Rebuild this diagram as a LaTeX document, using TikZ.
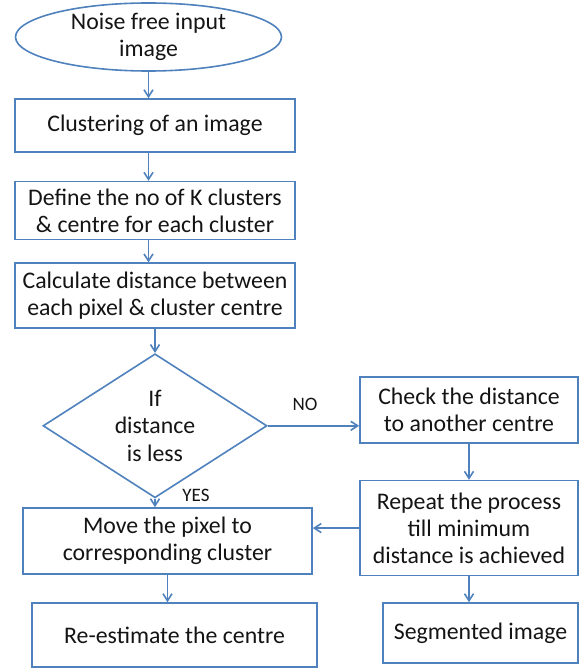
\documentclass[tikz,border=0pt]{standalone}
\usepackage{fontspec}
\setmainfont{Carlito}
\usepackage{xcolor}
\definecolor{cLine}{HTML}{4F81BD}
\definecolor{cText}{HTML}{141414}
\usetikzlibrary{positioning,arrows.meta,shapes.geometric,calc}
\tikzset{
  node-box/.style={draw=cLine,line width=0.8pt,rectangle,align=center,
    inner sep=0pt,text=cText,font=\fontsize{11.9}{13.6}\selectfont},
  node-start/.style={node-box,ellipse},
  node-dec/.style={node-box,diamond,aspect=1.55},
  node-label/.style={inner sep=0pt,text=cText,font=\fontsize{9.5}{11}\selectfont},
  arrow/.style={-{Straight Barb[length=3.5pt,width=4.5pt]},line width=0.8pt,draw=cLine},
}

\begin{document}
\begin{tikzpicture}[x=0.5pt,y=-0.5pt]
  \useasboundingbox (0,0) rectangle (579,668);
  % left column
  \node[node-start,minimum width=133pt,minimum height=34pt] (start) at (148.5,37)
    {Noise free input\\image};
  \node[node-box,minimum width=140pt,minimum height=26.5pt] (b1) at (155,125.5)
    {Clustering of an image};
  \node[node-box,minimum width=140pt,minimum height=29pt,below=14pt of b1] (b2)
    {Define the no of K clusters\\\& centre for each cluster};
  \node[node-box,minimum width=140pt,minimum height=32.5pt,below=11pt of b2] (b3)
    {Calculate distance between\\each pixel \& cluster centre};
  \node[node-dec,minimum width=112pt,minimum height=72pt,below=12pt of b3] (dec)
    {If\\distance\\is less};
  \node[node-box,minimum width=144.5pt,minimum height=33pt] (move) at (167.5,541)
    {Move the pixel to\\corresponding cluster};
  \node[node-box,minimum width=142.5pt,minimum height=32pt] (reest) at (174.5,635)
    {Re-estimate the centre};
  % right column
  \node[node-box,minimum width=109pt,minimum height=33pt] (check) at (469,410)
    {Check the distance\\to another centre};
  \node[node-box,minimum width=109pt,minimum height=47.5pt,below=18pt of check] (repeat)
    {Repeat the process\\till minimum\\distance is achieved};
  \node[node-box,minimum width=97.5pt,minimum height=30pt] (seg) at (480.5,633)
    {Segmented image};
  % labels
  \node[node-label] (lbl-no) at (305,404) {NO};
  \node[node-label] (lbl-yes) at (196,495) {YES};
  % connectors
  \draw[arrow] (start.south) -- (start.south |- b1.north);
  \draw[arrow] (b1.south -| start.south) -- (b2.north -| start.south);
  \draw[arrow] (b2.south -| start.south) -- (b3.north -| start.south);
  \draw[arrow] (b3) -- (dec);
  \draw[arrow] (dec.east) -- (dec.east -| check.west);
  \draw[arrow] (dec.south) -- (move.north -| dec.south);
  \draw[arrow] (check) -- (repeat);
  \draw[arrow] (repeat.west) -- (repeat.west -| move.east);
  \draw[arrow] (move.south) -- (move.south |- reest.north);
  \draw[arrow] (repeat.south) -- (repeat.south |- seg.north);
\end{tikzpicture}
\end{document}
